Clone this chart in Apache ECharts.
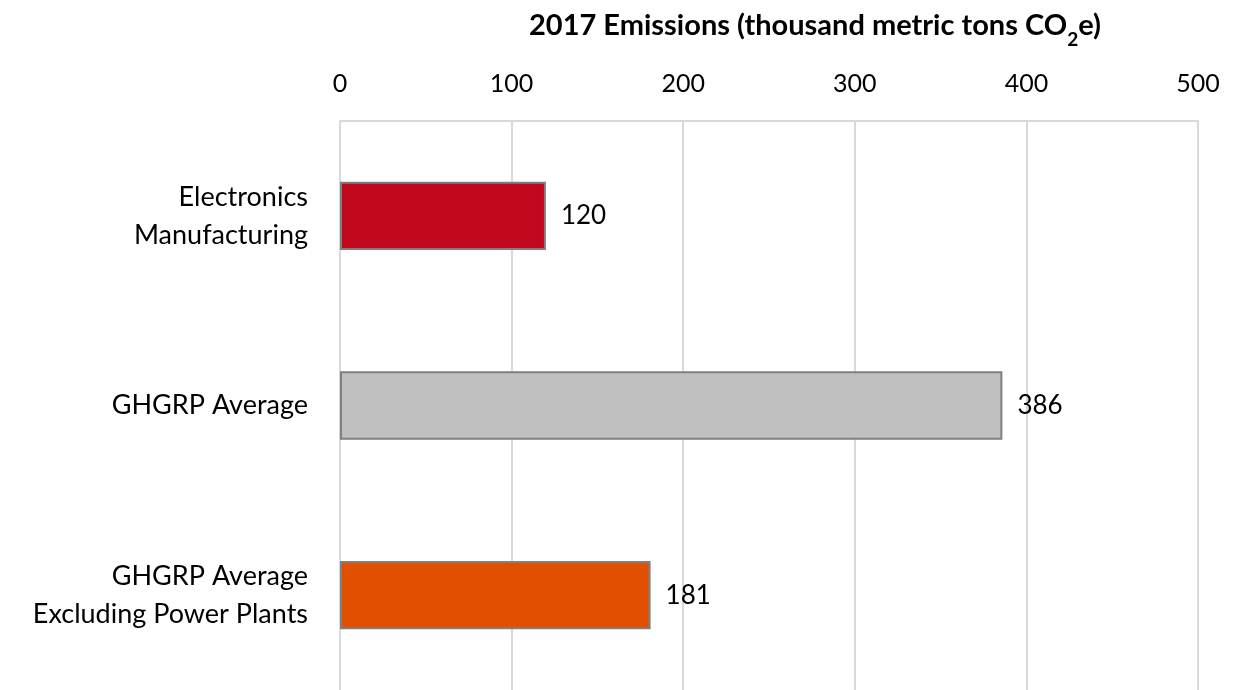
<!DOCTYPE html>
<html lang="en">
<head>
    <meta charset="UTF-8">
    <title>2017 Emissions</title>
    <script type="text/javascript" src="https://cdn.jsdelivr.net/npm/echarts@6/dist/echarts.min.js"></script>
    <style>
        html, body { margin: 0; padding: 0; background: #fff; }
    </style>
</head>
<body>
<div id="main" style="width: 1235px;height: 690px;"></div>

<script type="text/javascript">

    var categories = ['Electronics\nManufacturing', 'GHGRP Average', 'GHGRP Average\nExcluding Power Plants'];
    var values = [120, 386, 181];
    var barColors = ['#C0071D', '#C0C0C0', '#E34F00'];
    var tickValues = [0, 100, 200, 300, 400, 500];

    var font = 'Lato, "Open Sans", sans-serif';
    var chart = echarts.init(document.getElementById('main'));

    var option = {
        animation: false,
        title: {
            text: '2017 Emissions (thousand metric tons CO{sub|2}e)',
            left: 810,
            top: 6,
            textAlign: 'center',
            textStyle: {
                fontFamily: font,
                fontSize: 29,
                fontWeight: 'bold',
                color: '#000',
                rich: {
                    sub: {
                        fontFamily: font,
                        fontSize: 19,
                        fontWeight: 'bold',
                        color: '#000',
                        verticalAlign: 'bottom',
                        padding: [0, 0, -9, 0]
                    }
                }
            }
        },
        grid: {
            left: 340,
            top: 121,
            width: 858,
            height: 573
        },
        xAxis: {
            type: 'value',
            position: 'top',
            min: tickValues[0],
            max: tickValues[tickValues.length - 1],
            interval: 100,
            axisLine: { show: true, lineStyle: { color: '#D9D9D9', width: 2 } },
            axisTick: { show: false },
            axisLabel: {
                margin: 25,
                fontFamily: font,
                fontSize: 25,
                color: '#000'
            },
            splitLine: { show: true, lineStyle: { color: '#D9D9D9', width: 2 } }
        },
        yAxis: {
            type: 'category',
            inverse: true,
            data: categories,
            axisLine: { show: false },
            axisTick: { show: false },
            axisLabel: {
                margin: 32,
                fontFamily: font,
                fontSize: 27,
                lineHeight: 38,
                color: '#000',
                align: 'right'
            }
        },
        series: [
            {
                type: 'bar',
                barWidth: '36%',
                data: values.map(function (v, i) {
                    return { value: v, itemStyle: { color: barColors[i] } };
                }),
                itemStyle: {
                    borderColor: '#7F7F7F',
                    borderWidth: 2
                },
                label: {
                    show: true,
                    position: 'right',
                    distance: 15,
                    fontFamily: font,
                    fontSize: 26,
                    color: '#000'
                }
            }
        ]
    };
    chart.setOption(option);
</script>
</body>
</html>
